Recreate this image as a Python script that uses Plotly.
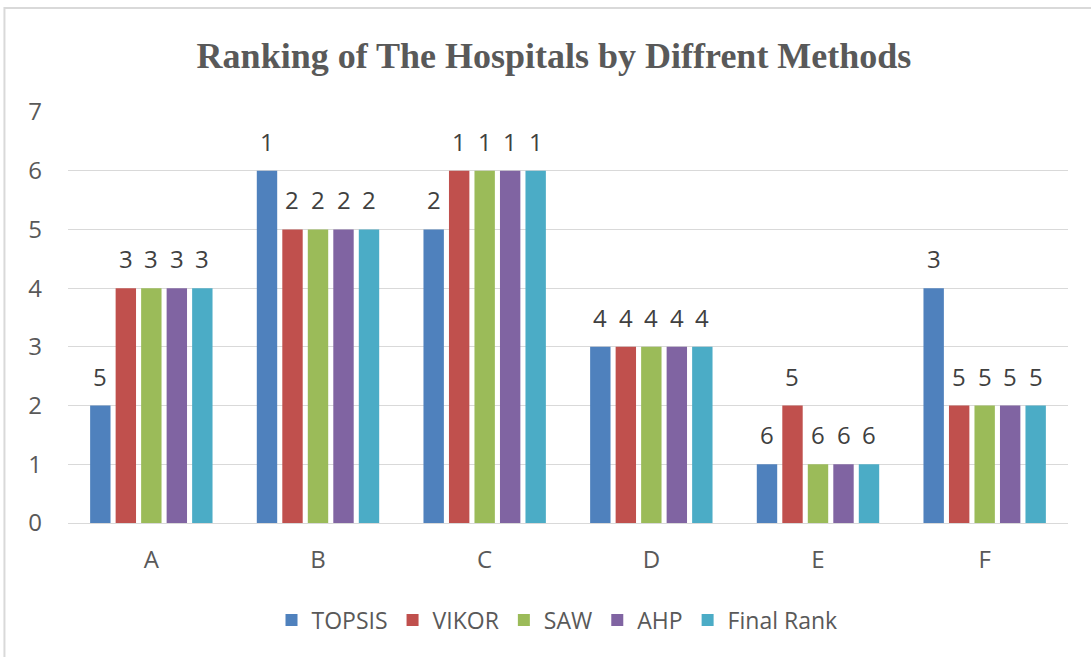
import plotly.graph_objects as go

categories = ["A", "B", "C", "D", "E", "F"]
series_names = ["TOPSIS", "VIKOR", "SAW", "AHP", "Final Rank"]
topsis = [2, 6, 5, 3, 1, 4]
vikor = [4, 5, 6, 3, 2, 2]
saw = [4, 5, 6, 3, 1, 2]
ahp = [4, 5, 6, 3, 1, 2]
final_rank = [4, 5, 6, 3, 1, 2]
topsis_lbl = [5, 1, 2, 4, 6, 3]
vikor_lbl = [3, 2, 1, 4, 5, 5]
saw_lbl = [3, 2, 1, 4, 6, 5]
ahp_lbl = [3, 2, 1, 4, 6, 5]
final_lbl = [3, 2, 1, 4, 6, 5]
colors = ["#4F81BD", "#C0504D", "#9BBB59", "#8064A2", "#4BACC6"]
y_ticks = [0, 1, 2, 3, 4, 5, 6, 7]

values = [topsis, vikor, saw, ahp, final_rank]
labels = [topsis_lbl, vikor_lbl, saw_lbl, ahp_lbl, final_lbl]

FONT = "Open Sans, Lato, sans-serif"
W, H = 1091, 657
L, R, T, B = 67.6, 22.6, 112, 134
pw, ph = W - L - R, H - T - B
BARGAP = 0.235
n = len(series_names)
slot_px = pw / len(categories) * (1 - BARGAP) / n

fig = go.Figure()
for i, (name, v, l, c) in enumerate(zip(series_names, values, labels, colors)):
    fig.add_trace(go.Bar(
        name=name, x=categories, y=v,
        marker=dict(color=c, line=dict(width=0)),
    ))
    for cat, val, lab in zip(categories, v, l):
        fig.add_annotation(
            x=cat, y=val, text=str(lab), showarrow=False,
            xref="x", yref="y", xanchor="center", yanchor="bottom",
            xshift=(i - (n - 1) / 2) * slot_px, yshift=11,
            font=dict(family=FONT, size=24, color="#404040"),
        )


def px(x):
    return (x - L) / pw


def py(y):
    return (H - B - y) / ph


fig.add_shape(type="rect", xref="paper", yref="paper",
              x0=px(4), x1=px(1120), y0=py(8), y1=py(700),
              line=dict(color="#d9d9d9", width=2), fillcolor="rgba(0,0,0,0)", layer="below")

fig.update_layout(
    width=W, height=H,
    margin=dict(l=L, r=R, t=T, b=B),
    paper_bgcolor="white", plot_bgcolor="white",
    barmode="group", bargap=BARGAP, bargroupgap=0.2,
    title=dict(text="<b>Ranking of The Hospitals by Diffrent Methods</b>",
               x=554 / W, xref="container", xanchor="center",
               y=1 - 55 / H, yanchor="middle",
               font=dict(family="Liberation Serif, Times New Roman, serif", size=36, color="#595959")),
    font=dict(family=FONT, color="#595959"),
    showlegend=True,
    legend=dict(orientation="h", x=px(557), xanchor="center", y=py(620), yanchor="middle",
                font=dict(size=23, color="#595959"), itemsizing="constant",
                traceorder="normal"),
    xaxis=dict(showgrid=False, showline=False, ticks="", tickfont=dict(size=24, color="#595959"),
               ticklabelstandoff=20),
    yaxis=dict(range=[0, 7], tickvals=y_ticks, showgrid=True, gridcolor="#d9d9d9", gridwidth=1,
               zeroline=True, zerolinecolor="#d9d9d9", zerolinewidth=1,
               tickfont=dict(size=24, color="#595959"), ticklabelstandoff=25),
)

fig.write_html("out.html", config={"displayModeBar": False},
               post_script="document.body.style.margin='0px';")
